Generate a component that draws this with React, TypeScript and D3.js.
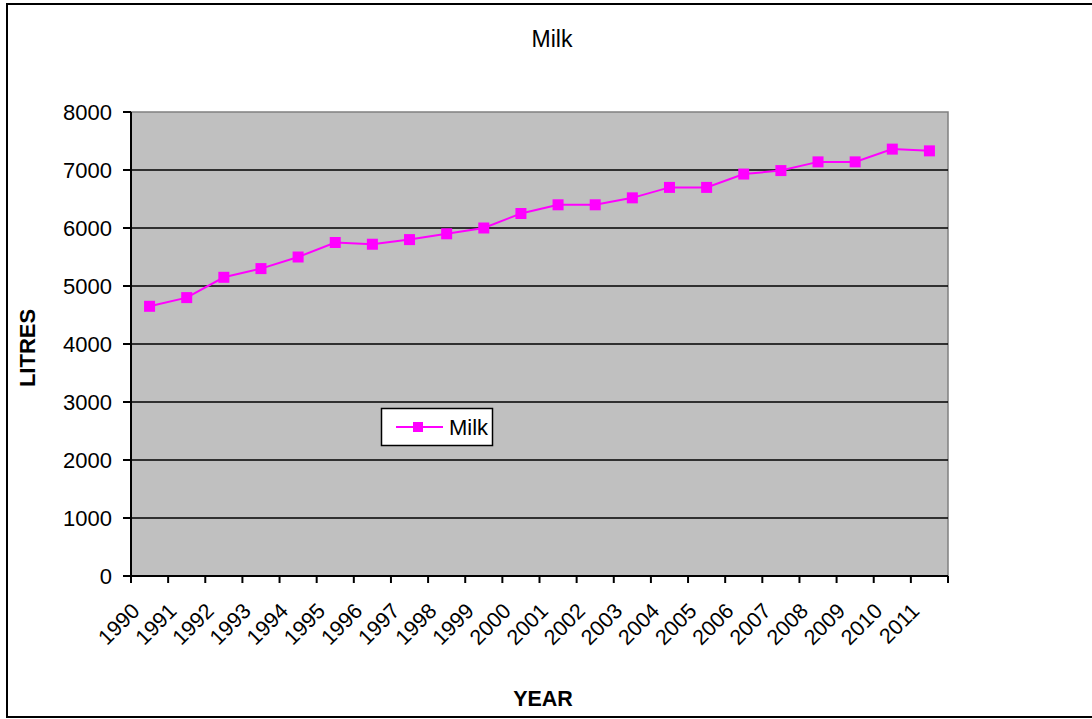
import React from "react";
import * as d3 from "d3";

// Annual milk volume, litres
const years: string[] = [
  "1990", "1991", "1992", "1993", "1994", "1995", "1996", "1997", "1998", "1999", "2000",
  "2001", "2002", "2003", "2004", "2005", "2006", "2007", "2008", "2009", "2010", "2011",
];
const milk: number[] = [
  4650, 4800, 5150, 5300, 5500, 5750, 5720, 5800, 5900, 6000, 6250,
  6400, 6400, 6520, 6700, 6700, 6930, 6990, 7140, 7140, 7360, 7330,
];
const yTicks: number[] = [0, 1000, 2000, 3000, 4000, 5000, 6000, 7000, 8000];
const seriesName = "Milk";

const W = 1092;
const H = 719;
const plot = { left: 131, top: 112, right: 948, bottom: 576 };
const FONT = "'Liberation Sans', Arial, Helvetica, sans-serif";
const MAGENTA = "#FF00FF";
const FS = 22;

export default function App() {
  const x = d3
    .scaleBand<string>()
    .domain(years)
    .range([plot.left, plot.right])
    .paddingInner(0)
    .paddingOuter(0);
  const y = d3.scaleLinear().domain([0, 8000]).range([plot.bottom, plot.top]);
  const cx = (d: string) => (x(d) ?? 0) + x.bandwidth() / 2;

  const line = d3
    .line<number>()
    .x((_, i) => cx(years[i]))
    .y((v) => y(v));

  const boundaries = years.map((d) => x(d) ?? 0).concat([plot.right]);
  const ms = 11;

  return (
    <svg
      width={W}
      height={H}
      style={{ position: "absolute", left: 0, top: 0, background: "#fff" }}
      fontFamily={FONT}
    >
      {/* chart frame */}
      <rect x={7} y={4} width={1100} height={713} fill="#fff" stroke="#000" strokeWidth={2} />

      <text x={552} y={47} textAnchor="middle" fontSize={23} fill="#000">
        {seriesName}
      </text>

      {/* plot area */}
      <rect
        x={plot.left}
        y={plot.top}
        width={plot.right - plot.left}
        height={plot.bottom - plot.top}
        fill="#C0C0C0"
        stroke="#808080"
        strokeWidth={1.5}
      />

      {/* gridlines */}
      {yTicks
        .filter((t) => t > 0 && t < 8000)
        .map((t) => (
          <line key={"g" + t} x1={plot.left} x2={plot.right} y1={y(t)} y2={y(t)} stroke="#000" strokeWidth={1.5} />
        ))}

      {/* y axis */}
      <line x1={plot.left} x2={plot.left} y1={plot.top} y2={plot.bottom} stroke="#000" strokeWidth={2} />
      {yTicks.map((t) => (
        <g key={"y" + t}>
          <line x1={plot.left - 8} x2={plot.left} y1={y(t)} y2={y(t)} stroke="#000" strokeWidth={2} />
          <text x={112} y={y(t)} dy="0.36em" textAnchor="end" fontSize={FS} fill="#000">
            {t}
          </text>
        </g>
      ))}

      {/* x axis */}
      <line x1={plot.left} x2={plot.right} y1={plot.bottom} y2={plot.bottom} stroke="#000" strokeWidth={2} />
      {boundaries.map((bx, i) => (
        <line key={"xt" + i} x1={bx} x2={bx} y1={plot.bottom} y2={plot.bottom + 7} stroke="#000" strokeWidth={2} />
      ))}
      {years.map((d) => (
        <text
          key={"xl" + d}
          transform={`translate(${cx(d) - 14},${plot.bottom + 31}) rotate(-45)`}
          textAnchor="end"
          dy="0.35em"
          fontSize={21.5}
          fill="#000"
        >
          {d}
        </text>
      ))}

      {/* axis titles */}
      <text
        transform={`translate(35,348) rotate(-90)`}
        textAnchor="middle"
        fontSize={FS}
        fontWeight="bold"
        fill="#000"
      >
        LITRES
      </text>
      <text x={543} y={706} textAnchor="middle" fontSize={21.5} fontWeight="bold" fill="#000">
        YEAR
      </text>

      {/* series */}
      <path d={line(milk) ?? ""} fill="none" stroke={MAGENTA} strokeWidth={2} />
      {milk.map((v, i) => (
        <rect
          key={"m" + i}
          x={cx(years[i]) - ms / 2}
          y={y(v) - ms / 2}
          width={ms}
          height={ms}
          fill={MAGENTA}
        />
      ))}

      {/* legend */}
      <rect x={381.5} y={408.5} width={111} height={37} fill="#fff" stroke="#000" strokeWidth={1.5} />
      <line x1={396} x2={443} y1={427} y2={427} stroke={MAGENTA} strokeWidth={2} />
      <rect x={418 - 5} y={427 - 5} width={10} height={10} fill={MAGENTA} />
      <text x={449} y={427} dy="0.36em" fontSize={FS} fill="#000">
        {seriesName}
      </text>
    </svg>
  );
}
